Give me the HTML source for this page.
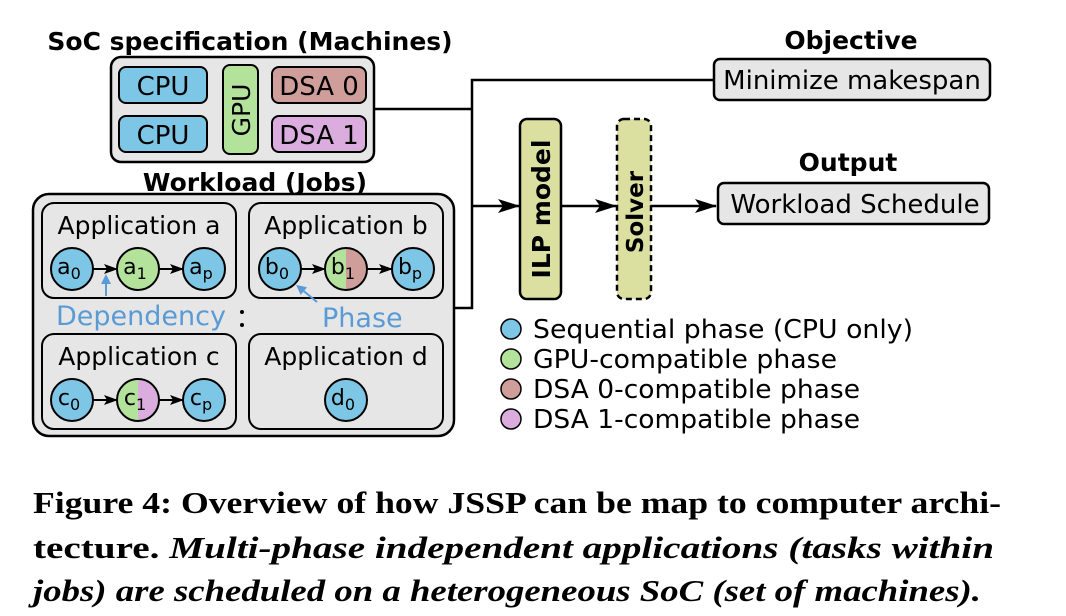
<!DOCTYPE html>
<html><head><meta charset="utf-8"><style>
html,body{margin:0;padding:0;background:#fff;}
svg{display:block;}
.d{font-family:"DejaVu Sans","Liberation Sans",sans-serif;}
.s{font-family:"Liberation Serif",serif;font-weight:bold;font-size:31px;}
</style></head><body>
<svg width="1066" height="616" viewBox="0 0 1066 616" xmlns="http://www.w3.org/2000/svg">
<defs>
<marker id="ar" markerWidth="14" markerHeight="10" refX="13" refY="5" orient="auto" markerUnits="userSpaceOnUse"><path d="M0,0 L14,5 L0,10 L3,5 z" fill="#000"/></marker>
<marker id="ar2" markerWidth="22" markerHeight="14" refX="21" refY="7" orient="auto" markerUnits="userSpaceOnUse"><path d="M0,0 L22,7 L0,14 L5,7 z" fill="#000"/></marker>
<marker id="ab" markerWidth="10" markerHeight="10" refX="5" refY="5" orient="auto" markerUnits="userSpaceOnUse"><path d="M0,0 L10,5 L0,10 z" fill="#5b9bd5"/></marker>
</defs>
<g class="d">
<text x="250" y="50" font-size="25" font-weight="bold" text-anchor="middle">SoC specification (Machines)</text>
<rect x="111" y="57" width="263" height="105" rx="10" fill="#e6e6e6" stroke="#000" stroke-width="2.5"/>
<rect x="119" y="67" width="88" height="36" rx="7" fill="#7ec6e5" stroke="#000" stroke-width="2"/>
<rect x="119" y="116" width="88" height="36" rx="7" fill="#7ec6e5" stroke="#000" stroke-width="2"/>
<text x="163" y="95" font-size="26" text-anchor="middle">CPU</text>
<text x="163" y="144" font-size="26" text-anchor="middle">CPU</text>
<rect x="223" y="65" width="35" height="89" rx="7" fill="#b3e29b" stroke="#000" stroke-width="2"/>
<text transform="translate(250,110) rotate(-90)" font-size="25" text-anchor="middle">GPU</text>
<rect x="272" y="67" width="94" height="36" rx="7" fill="#cf9e9b" stroke="#000" stroke-width="2"/>
<rect x="272" y="116" width="94" height="36" rx="7" fill="#dbacde" stroke="#000" stroke-width="2"/>
<text x="319" y="95" font-size="26" text-anchor="middle">DSA 0</text>
<text x="319" y="144" font-size="26" text-anchor="middle">DSA 1</text>

<text x="255" y="191" font-size="25" font-weight="bold" text-anchor="middle">Workload (Jobs)</text>
<rect x="33" y="194" width="421" height="242" rx="16" fill="#e6e6e6" stroke="#000" stroke-width="2.5"/>
<rect x="42" y="203" width="194" height="95" rx="12" fill="#e6e6e6" stroke="#000" stroke-width="2"/>
<rect x="249" y="203" width="194" height="95" rx="12" fill="#e6e6e6" stroke="#000" stroke-width="2"/>
<rect x="42" y="334" width="194" height="95" rx="12" fill="#e6e6e6" stroke="#000" stroke-width="2"/>
<rect x="249" y="334" width="194" height="95" rx="12" fill="#e6e6e6" stroke="#000" stroke-width="2"/>
<text x="139" y="234" font-size="25" text-anchor="middle">Application a</text>
<text x="346" y="234" font-size="25" text-anchor="middle">Application b</text>
<text x="139" y="365" font-size="25" text-anchor="middle">Application c</text>
<text x="346" y="365" font-size="25" text-anchor="middle">Application d</text>

<g stroke="#000" stroke-width="2" marker-end="url(#ar)">
<line x1="93" y1="269" x2="117" y2="269"/><line x1="159" y1="269" x2="183" y2="269"/>
<line x1="301" y1="269" x2="325" y2="269"/><line x1="367" y1="269" x2="392" y2="269"/>
<line x1="93" y1="400" x2="117" y2="400"/><line x1="159" y1="400" x2="183" y2="400"/>
</g>
<circle cx="72" cy="269" r="21" fill="#7ec6e5" stroke="#000" stroke-width="2"/>
<circle cx="138" cy="269" r="21" fill="#b3e29b" stroke="#000" stroke-width="2"/>
<circle cx="204" cy="269" r="21" fill="#7ec6e5" stroke="#000" stroke-width="2"/>
<circle cx="280" cy="269" r="21" fill="#7ec6e5" stroke="#000" stroke-width="2"/>
<path d="M346,248 A21,21 0 0 0 346,290 z" fill="#b3e29b"/><path d="M346,248 A21,21 0 0 1 346,290 z" fill="#cf9e9b"/>
<circle cx="346" cy="269" r="21" fill="none" stroke="#000" stroke-width="2"/>
<circle cx="413" cy="269" r="21" fill="#7ec6e5" stroke="#000" stroke-width="2"/>
<circle cx="72" cy="400" r="21" fill="#7ec6e5" stroke="#000" stroke-width="2"/>
<path d="M138,379 A21,21 0 0 0 138,421 z" fill="#b3e29b"/><path d="M138,379 A21,21 0 0 1 138,421 z" fill="#dbacde"/>
<circle cx="138" cy="400" r="21" fill="none" stroke="#000" stroke-width="2"/>
<circle cx="204" cy="400" r="21" fill="#7ec6e5" stroke="#000" stroke-width="2"/>
<circle cx="346" cy="400" r="21" fill="#7ec6e5" stroke="#000" stroke-width="2"/>
<g font-size="22" text-anchor="middle">
<text x="69" y="274">a<tspan font-size="16" dy="5">0</tspan></text>
<text x="135" y="274">a<tspan font-size="16" dy="5">1</tspan></text>
<text x="201" y="274">a<tspan font-size="16" dy="5">p</tspan></text>
<text x="277" y="274">b<tspan font-size="16" dy="5">0</tspan></text>
<text x="343" y="274">b<tspan font-size="16" dy="5">1</tspan></text>
<text x="410" y="274">b<tspan font-size="16" dy="5">p</tspan></text>
<text x="69" y="405">c<tspan font-size="16" dy="5">0</tspan></text>
<text x="135" y="405">c<tspan font-size="16" dy="5">1</tspan></text>
<text x="201" y="405">c<tspan font-size="16" dy="5">p</tspan></text>
<text x="343" y="405">d<tspan font-size="16" dy="5">0</tspan></text>
</g>
<line x1="106" y1="296" x2="106" y2="279" stroke="#5b9bd5" stroke-width="2" marker-end="url(#ab)"/>
<line x1="317" y1="302" x2="300" y2="288" stroke="#5b9bd5" stroke-width="2" marker-end="url(#ab)"/>
<text x="56" y="325" font-size="27" fill="#5b9bd5">Dependency</text>
<text x="322" y="327" font-size="27" fill="#5b9bd5">Phase</text>
<circle cx="242" cy="312" r="2" fill="#000"/><circle cx="242" cy="325" r="2" fill="#000"/>

<g stroke="#000" stroke-width="2.5" fill="none">
<polyline points="374,109 472,109"/>
<polyline points="454,308 472,308 472,80 714,80"/>
</g>
<g stroke="#000" stroke-width="2.5" marker-end="url(#ar2)">
<line x1="472" y1="206" x2="519" y2="206"/>
<line x1="561" y1="206" x2="616" y2="206"/>
<line x1="651" y1="206" x2="716" y2="206"/>
</g>
<rect x="520" y="119" width="41" height="180" rx="7" fill="#dbe0a1" stroke="#000" stroke-width="2.5"/>
<text transform="translate(550,209) rotate(-90)" font-size="25" font-weight="bold" text-anchor="middle">ILP model</text>
<rect x="617" y="119" width="34" height="180" rx="7" fill="#dbe0a1" stroke="#000" stroke-width="2.5" stroke-dasharray="6,4"/>
<text transform="translate(643,212) rotate(-90)" font-size="23" font-weight="bold" text-anchor="middle">Solver</text>

<text x="851" y="49" font-size="25" font-weight="bold" text-anchor="middle">Objective</text>
<rect x="714" y="59" width="276" height="41" rx="6" fill="#e6e6e6" stroke="#000" stroke-width="2.5"/>
<text x="852" y="89" font-size="26" text-anchor="middle">Minimize makespan</text>
<text x="848" y="171" font-size="25" font-weight="bold" text-anchor="middle">Output</text>
<rect x="718" y="183" width="271" height="41" rx="6" fill="#e6e6e6" stroke="#000" stroke-width="2.5"/>
<text x="855" y="213" font-size="26" text-anchor="middle">Workload Schedule</text>

<circle cx="511" cy="329" r="10" fill="#7ec6e5" stroke="#000" stroke-width="1.5"/>
<circle cx="511" cy="359" r="10" fill="#b3e29b" stroke="#000" stroke-width="1.5"/>
<circle cx="511" cy="389" r="10" fill="#cf9e9b" stroke="#000" stroke-width="1.5"/>
<circle cx="511" cy="419" r="10" fill="#dbacde" stroke="#000" stroke-width="1.5"/>
<g font-size="26">
<text x="533" y="338" textLength="380" lengthAdjust="spacingAndGlyphs">Sequential phase (CPU only)</text>
<text x="533" y="368" textLength="304" lengthAdjust="spacingAndGlyphs">GPU-compatible phase</text>
<text x="533" y="398" textLength="327" lengthAdjust="spacingAndGlyphs">DSA 0-compatible phase</text>
<text x="533" y="428" textLength="327" lengthAdjust="spacingAndGlyphs">DSA 1-compatible phase</text>
</g>
</g>
<text class="s" x="33" y="513" textLength="968" lengthAdjust="spacingAndGlyphs">Figure 4: Overview of how JSSP can be map to computer archi-</text>
<text class="s" x="33" y="558" textLength="961" lengthAdjust="spacingAndGlyphs">tecture. <tspan font-style="italic">Multi-phase independent applications (tasks within</tspan></text>
<text class="s" x="33" y="601" font-style="italic" textLength="948" lengthAdjust="spacingAndGlyphs">jobs) are scheduled on a heterogeneous SoC (set of machines).</text>
</svg>
</body></html>
